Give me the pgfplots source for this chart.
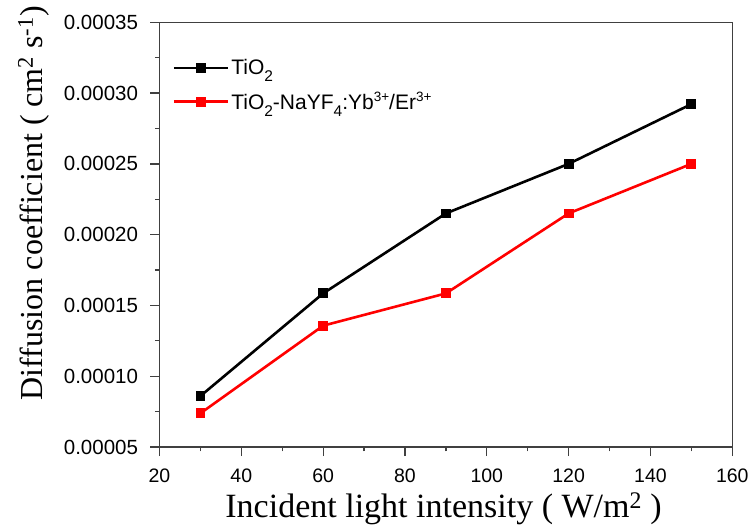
\documentclass[border=0pt]{standalone}
\usepackage{fontspec}
\setmainfont{Liberation Serif}
\newfontfamily\arial{Liberation Sans}
\usepackage{pgfplots}
\pgfplotsset{compat=1.18}
\newcommand\lsub[1]{\raisebox{-7pt}{\fontsize{15.5}{15.5}\selectfont #1}}
\newcommand\lsup[1]{\raisebox{8pt}{\fontsize{13.5}{13.5}\selectfont #1}}
\begin{document}
\begin{tikzpicture}
\useasboundingbox (-159.5pt,-82pt) rectangle (594.5pt,447pt);
\begin{axis}[
  at={(0,0)}, anchor=south west,
  width=572.8pt, height=424.7pt, scale only axis,
  xmin=20, xmax=160, ymin=0.00005, ymax=0.00035,
  xtick={20,40,...,160},
  ytick={0.00005,0.0001,0.00015,0.0002,0.00025,0.0003,0.00035},
  minor x tick num=1, minor y tick num=1,
  tick pos=left, tick align=outside,
  major tick length=9pt, minor tick length=4.5pt,
  axis line style={black!75, line width=1.3pt},
  every tick/.style={black!75, line width=1.3pt},
  scaled y ticks=false,
  yticklabel style={/pgf/number format/.cd, fixed, fixed zerofill, precision=5, assume math mode=true, /tikz/.cd, xshift=-9pt, font=\arial\fontsize{20.5}{20.5}\selectfont},
  xticklabel style={/pgf/number format/assume math mode=true, yshift=-9pt, font=\arial\fontsize{19.5}{19.5}\selectfont},
  xlabel={Incident light intensity ( W/m\textsuperscript{2} )},
  ylabel={Diffusion coefficient ( cm\textsuperscript{2} s\textsuperscript{-1})},
  xlabel style={font=\fontsize{34}{34}\selectfont, at={(axis description cs:0.496,0)}, anchor=base, yshift=-70.7pt},
  ylabel style={font=\fontsize{32}{32}\selectfont, at={(axis description cs:-0.2051,0.574)}, anchor=base},
  legend style={at={(0,1)}, anchor=north west, xshift=10pt, yshift=-33pt, draw=none, fill=none,
    font=\arial\fontsize{21}{21}\selectfont, row sep=12pt, nodes={inner sep=2pt}},
  legend cell align=left,
  legend image code/.code={\draw[#1, mark repeat=2, mark phase=2] plot coordinates {(0pt,0pt) (27pt,0pt) (54pt,0pt)};},
]
\addplot[black, line width=2.6pt, mark=square*, mark size=3.6pt, mark options={solid}] coordinates {
  (30,0.0000860) (60,0.0001585) (90,0.0002150) (120,0.0002500) (150,0.0002922)};
\addlegendentry{TiO\lsub{2}}
\addplot[red, line width=2.6pt, mark=square*, mark size=3.6pt, mark options={solid}] coordinates {
  (30,0.0000738) (60,0.0001357) (90,0.0001585) (120,0.0002150) (150,0.0002500)};
\addlegendentry{TiO\lsub{2}-NaYF\lsub{4}:Yb\lsup{3+}/Er\lsup{3+}}
\end{axis}
\end{tikzpicture}
\end{document}
